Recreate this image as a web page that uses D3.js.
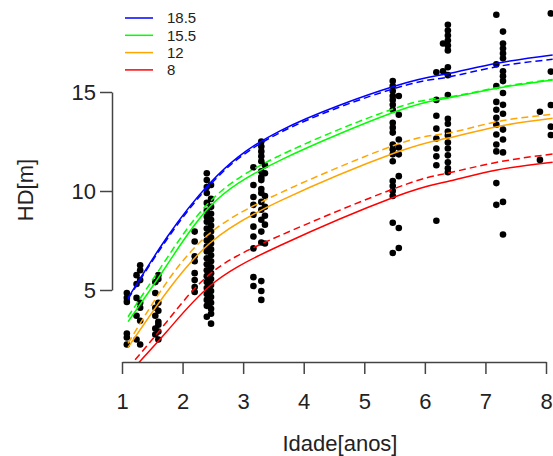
<!DOCTYPE html>
<html>
<head>
<meta charset="utf-8">
<script src="https://cdn.jsdelivr.net/npm/d3@7"></script>
<style>
  body { margin: 0; background: #fff; }
  svg { display: block; font-family: "Liberation Sans", Arial, sans-serif; }
</style>
</head>
<body>
<div id="chart"></div>
<script>
// observed heights, one array per age sub-column
var obsAges = [1.08, 1.24, 1.30, 1.55, 1.60, 2.20, 2.40, 2.47, 3.17, 3.30, 3.36,
               5.47, 5.57, 6.19, 6.30, 6.38, 7.18, 7.29, 7.90, 8.08];
var obsHD = [
  [4.85, 4.6, 4.4, 2.8, 2.6, 2.25],
  [5.75, 5.3, 4.6, 3.7, 2.5],
  [6.25, 6.0, 5.5, 4.35, 4.1, 3.45, 2.25],
  [5.4, 4.85, 4.1, 3.7, 3.05, 2.75],
  [5.75, 5.55, 4.35, 3.95, 3.4, 3.25, 2.9, 2.5],
  [7.95, 7.45, 6.7, 6.45, 5.85, 5.5, 5.15, 4.9],
  [10.9, 10.55, 10.2, 9.9, 9.4, 9.0, 8.7, 8.45, 8.1, 7.8, 7.5, 7.2, 6.95, 6.6, 6.3, 6.0, 5.7, 5.4, 5.1, 4.8, 4.5, 4.2, 3.65],
  [10.3, 9.6, 9.2, 8.85, 8.55, 8.25, 7.95, 7.65, 7.35, 7.05, 6.75, 6.45, 6.15, 5.85, 5.55, 5.25, 4.95, 4.65, 4.35, 4.05, 3.8, 3.3],
  [11.2, 10.3, 9.7, 9.3, 8.8, 8.2, 7.7, 7.1, 5.65, 5.2],
  [12.5, 12.25, 12.0, 11.75, 11.5, 11.0, 10.7, 10.55, 10.1, 9.9, 9.45, 9.05, 8.55, 7.95, 7.4, 5.45, 4.95, 4.5],
  [11.3, 10.9, 9.75, 9.2, 8.75, 8.3, 7.35],
  [15.55, 15.3, 15.05, 14.8, 14.6, 14.35, 14.1, 13.45, 13.2, 12.95, 12.35, 12.1, 11.85, 11.5, 10.5, 10.25, 10.0, 9.75, 8.4, 6.87],
  [14.8, 13.85, 12.6, 12.2, 11.85, 10.75, 8.13, 7.12],
  [16.0, 14.6, 13.8, 13.15, 12.65, 12.15, 11.75, 11.3, 8.5],
  [17.45, 16.05],
  [18.4, 18.1, 17.85, 17.6, 17.35, 17.1, 16.25, 15.85, 14.85, 13.65, 13.4, 13.0, 12.8, 12.45, 12.15, 11.8, 11.45, 11.15, 10.95],
  [18.9, 16.4, 15.3, 14.5, 14.1, 13.7, 13.35, 12.85, 12.35, 12.0, 10.4, 9.3],
  [18.05, 17.45, 17.2, 16.95, 16.7, 16.05, 15.8, 15.55, 14.95, 14.35, 13.9, 13.1, 12.6, 11.95, 9.45, 7.8],
  [14.0, 11.57],
  [18.97, 16.03, 14.34, 13.25, 12.83]
];

// site curves, read at these ages
var curveAges = [1.1, 1.74, 2.45, 3.61, 5.51, 6.36, 7.19, 8.11];
var siteLabels = ["18.5", "15.5", "12", "8"];
var siteColors = ["blue", "#00ff00", "orange", "red"];
var solidHD = [
  [4.6, 7.65, 10.39, 13.04, 15.3, 15.91, 16.45, 16.87],
  [3.4, 6.25, 9.21, 11.55, 14.0, 14.68, 15.19, 15.61],
  [2.1, 4.9, 7.36, 9.5, 11.93, 12.66, 13.25, 13.67],
  [0.75, 2.9, 5.2, 7.25, 9.71, 10.47, 11.06, 11.45]
];
var dashedHD = [
  [4.55, 7.55, 10.3, 12.95, 15.19, 15.74, 16.28, 16.65],
  [3.65, 6.6, 9.46, 11.8, 14.18, 14.73, 15.22, 15.63],
  [2.3, 5.4, 7.86, 9.9, 12.32, 12.91, 13.5, 13.87],
  [1.05, 3.4, 5.8, 7.75, 10.14, 10.89, 11.45, 11.87]
];
var xTicks = [1, 2, 3, 4, 5, 6, 7, 8];
var yTicks = [5, 10, 15];

var width = 553, height = 456;
var plot = { left: 112, right: 568, top: 0, bottom: 362 };

var svg = d3.select("#chart").append("svg")
  .attr("width", width)
  .attr("height", height);

var x = d3.scaleLinear().domain([1, 8]).range([122, 546]);
var y = d3.scaleLinear().domain([5, 15]).range([290, 92]);

svg.append("clipPath").attr("id", "plotclip")
  .append("rect")
  .attr("x", plot.left).attr("y", plot.top)
  .attr("width", plot.right - plot.left)
  .attr("height", plot.bottom - plot.top);

var inner = svg.append("g").attr("clip-path", "url(#plotclip)");

// points
var pts = [];
obsAges.forEach(function(a, i) {
  obsHD[i].forEach(function(h) { pts.push([a, h]); });
});
inner.selectAll("circle.obs")
  .data(pts)
  .enter().append("circle")
  .attr("class", "obs")
  .attr("cx", function(d) { return x(d[0]); })
  .attr("cy", function(d) { return y(d[1]); })
  .attr("r", 3.3)
  .attr("fill", "#000");

var line = d3.line()
  .x(function(d) { return x(d[0]); })
  .y(function(d) { return y(d[1]); })
  .curve(d3.curveNatural);

siteColors.forEach(function(c, i) {
  inner.append("path")
    .datum(curveAges.map(function(a, j) { return [a, solidHD[i][j]]; }))
    .attr("d", line)
    .attr("fill", "none")
    .attr("stroke", c)
    .attr("stroke-width", 1.5);
  inner.append("path")
    .datum(curveAges.map(function(a, j) { return [a, dashedHD[i][j]]; }))
    .attr("d", line)
    .attr("fill", "none")
    .attr("stroke", c)
    .attr("stroke-width", 1.5)
    .attr("stroke-dasharray", "7,4");
});

// axes
var xAxis = svg.append("g")
  .attr("transform", "translate(0," + plot.bottom + ")")
  .call(d3.axisBottom(x).tickValues(xTicks).tickFormat(d3.format("d"))
    .tickSize(12).tickSizeOuter(0).tickPadding(19));
var yAxis = svg.append("g")
  .attr("transform", "translate(" + plot.left + ",0)")
  .call(d3.axisLeft(y).tickValues(yTicks).tickFormat(d3.format("d"))
    .tickSize(12).tickSizeOuter(0).tickPadding(4));

[xAxis, yAxis].forEach(function(g) {
  g.select(".domain").attr("stroke", "#444").attr("stroke-width", 1.5);
  g.selectAll(".tick line").attr("stroke", "#444").attr("stroke-width", 1.5);
  g.selectAll(".tick text")
    .attr("fill", "#222")
    .style("font-size", "22px")
    .style("font-family", "Liberation Sans, Arial, sans-serif");
});

svg.append("text")
  .attr("x", 340).attr("y", 451)
  .attr("text-anchor", "middle")
  .attr("fill", "#222")
  .style("font-size", "22px")
  .text("Idade[anos]");

svg.append("text")
  .attr("transform", "translate(33,190) rotate(-90)")
  .attr("text-anchor", "middle")
  .attr("fill", "#222")
  .style("font-size", "22px")
  .text("HD[m]");

// legend
var legend = svg.append("g");
siteLabels.forEach(function(lab, i) {
  var ly = 18 + i * 17.3;
  legend.append("line")
    .attr("x1", 125).attr("x2", 153)
    .attr("y1", ly).attr("y2", ly)
    .attr("stroke", siteColors[i])
    .attr("stroke-width", 1.5);
  legend.append("text")
    .attr("x", 167).attr("y", ly)
    .attr("dy", "0.35em")
    .attr("fill", "#222")
    .style("font-size", "15px")
    .text(lab);
});
</script>
</body>
</html>
